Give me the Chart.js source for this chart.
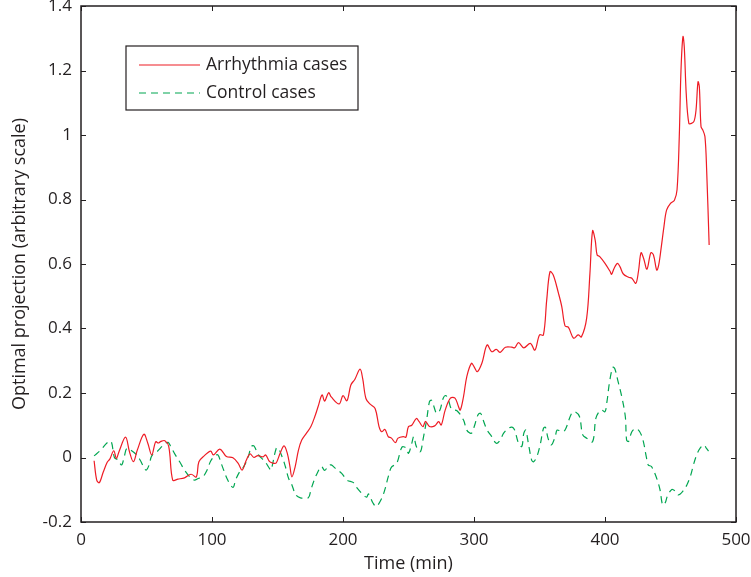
<!DOCTYPE html>
<html lang="en">
<head>
  <meta charset="UTF-8" />
  <title>Optimal projection over time</title>
  <script src="https://cdn.jsdelivr.net/npm/chart.js"></script>
  <style>
    body {
      margin: 0;
      background-color: #ffffff;
    }
    #wrap {
      width: 751px;
      height: 577px;
    }
  </style>
</head>
<body>
  <div id="wrap">
    <canvas id="projChart" width="751" height="577"></canvas>
  </div>

  <script>
    // values
    const arrTime = [10, 12, 14, 17, 20, 22, 25, 27, 29, 34, 37, 40, 43, 48, 51, 54, 57, 59, 61, 64, 67, 70, 74, 79, 84, 88, 90, 94, 99, 101,
      106, 111, 116, 120, 123, 126, 129, 132, 135, 139, 141, 144, 147, 149, 152, 155, 157.5, 159.5, 161, 163.5, 166, 168.5, 172, 175.5, 178.5,
      181, 184, 186, 189, 191, 197, 200, 203, 206, 209, 213, 215, 217.5, 220.5, 224.5, 227.5, 229.5, 232, 234.5, 237, 240, 242, 246, 248, 250,
      252.5, 256, 258, 261, 263, 266, 270, 273, 275, 278, 282, 285.5, 288, 289.5, 292, 294.5, 298, 300, 302.5, 306, 310, 313.5, 317, 320,
      324, 329, 331, 334, 338, 343, 346.5, 350, 353, 355.5, 358, 360.5, 364.5, 367, 369.5, 372, 376, 379.5, 382, 386, 388.5, 390.5, 392.5,
      394, 396, 400, 404, 405, 407, 409.5, 411.5, 414, 418, 420.5, 423.5, 425.5, 427.5, 429.5, 432, 435, 437, 439.5, 441, 443, 445, 447,
      450, 453, 455, 456.7, 458, 459.5, 460.5, 462, 464, 466, 468, 469.5, 471, 472, 473.3, 474.6, 476.3, 477.6, 479.5];
    const arrValue = [-0.01, -0.07, -0.078, -0.045, -0.015, -0.005, 0.021, -0.003, 0.018, 0.063, 0.018, -0.013, 0.023, 0.072, 0.044, 0.008,
      0.049, 0.045, 0.05, 0.052, 0.034, -0.07, -0.067, -0.063, -0.052, -0.06, -0.013, 0.005, 0.02, 0.008,
      0.026, 0.003, -0.001, -0.018, -0.039, -0.01, 0.011, 0.0, 0.006, 0.002, 0.008, -0.013, -0.018, -0.017, 0.013, 0.036, 0.013, -0.028, -0.06,
      -0.028, 0.023, 0.054, 0.075, 0.096, 0.127,
      0.158, 0.194, 0.175, 0.201, 0.188, 0.166, 0.192, 0.176, 0.225, 0.242, 0.274, 0.245, 0.183, 0.166, 0.152, 0.096, 0.08, 0.087, 0.065, 0.06,
      0.046, 0.06, 0.065, 0.063, 0.096,
      0.1, 0.121, 0.112, 0.096, 0.112, 0.096, 0.098, 0.111, 0.101, 0.147, 0.184, 0.184, 0.16, 0.147, 0.189, 0.251, 0.292, 0.282, 0.266, 0.292,
      0.349, 0.328, 0.335, 0.326,
      0.342, 0.342, 0.34, 0.356, 0.34, 0.354, 0.333, 0.38, 0.38, 0.488, 0.576, 0.566, 0.509, 0.468, 0.408, 0.404, 0.37, 0.38, 0.374, 0.432,
      0.571, 0.703, 0.674,
      0.628, 0.623, 0.602, 0.576, 0.568, 0.587, 0.602, 0.591, 0.569, 0.559, 0.556, 0.54, 0.576, 0.635, 0.617, 0.584, 0.635, 0.628, 0.581,
      0.597, 0.654, 0.716, 0.767,
      0.788, 0.798, 0.83, 0.995, 1.2, 1.305, 1.274, 1.129, 1.036, 1.036, 1.043, 1.078, 1.165, 1.15, 1.026, 1.016, 0.995, 0.891, 0.659];

    const ctrlTime = [10, 15, 20, 23, 25.5, 28, 31, 33, 35, 38, 42, 45, 49.5, 52, 54, 58, 63.5, 66.5, 68.5, 72, 76, 79, 83, 86.5, 89.5, 93, 96,
      99, 102, 104.5, 107, 112, 116, 118, 121, 124, 127.5, 130, 132, 135.5, 140.5, 145, 146, 149, 150.5, 154, 156, 158.5, 161, 164, 167.5,
      173.5, 175.5, 178, 180.5, 183.5, 186, 189, 191, 194, 199, 203, 208, 211, 215.5, 218, 219.5, 223, 225.5, 229.5, 232, 234.5, 237, 241,
      245, 248, 250, 252.5, 254, 256, 259, 261, 264, 266, 267.5, 269, 271.5, 274, 276.5, 278.5, 280.5, 283, 287, 292, 294.5, 298, 300.5,
      303, 305, 307, 310, 313.5, 317, 320, 322.5, 326, 329, 331, 334, 336.5, 338, 339.5, 341.5, 344, 345.5, 348, 350.5, 353, 354.5, 356.5,
      359, 362, 363.5, 367, 369.5, 374.5, 377, 380.5, 383, 386, 390.5, 393, 395.5, 397.5, 400, 401.5, 403.5, 406, 407.5, 410, 412.5, 415.5,
      416.5, 418, 420.5, 423.5, 426.5, 429, 431.5, 433, 435.5, 439.5, 442, 444, 446, 447.5, 451, 453.5, 456, 459.5, 462.5, 465.5, 467.5,
      470, 472.5, 475.5, 477.5, 479];
    const ctrlValue = [0.005, 0.023, 0.046, 0.05, 0.0, -0.007, -0.023, 0.003, 0.028, 0.023, 0.01, -0.007, -0.039, -0.023, 0.005, 0.018, 0.041,
      0.047, 0.034, 0.008, -0.018, -0.039, -0.06, -0.07, -0.065, -0.06, -0.041,
      -0.011, 0.005, 0.008, -0.018, -0.07, -0.093, -0.07, -0.045, -0.03, 0.0, 0.034, 0.036, 0.008, -0.013, -0.039, -0.025, 0.028, 0.03,
      -0.003, -0.028, -0.065, -0.085, -0.116, -0.125,
      -0.125, -0.1, -0.07, -0.047, -0.028, -0.04, -0.025, -0.023, -0.033, -0.049, -0.07, -0.078, -0.096, -0.116, -0.123, -0.113, -0.142,
      -0.152, -0.127, -0.099, -0.06, -0.03, -0.018,
      0.032, 0.03, 0.013, 0.044, 0.065, 0.034, 0.018, 0.054, 0.121, 0.173, 0.178, 0.163, 0.137, 0.147, 0.184, 0.192, 0.178, 0.149, 0.145,
      0.116, 0.085, 0.075, 0.1,
      0.132, 0.137, 0.116, 0.085, 0.065, 0.044, 0.054, 0.075, 0.09, 0.094, 0.085, 0.044, 0.034, 0.075, 0.085, 0.044, -0.008, -0.013, 0.003,
      0.039, 0.09, 0.094, 0.06,
      0.039, 0.065, 0.085, 0.08, 0.085, 0.137, 0.142, 0.127, 0.07, 0.06, 0.049, 0.121, 0.142, 0.147, 0.142, 0.173, 0.235, 0.28, 0.275,
      0.235, 0.194, 0.127,
      0.054, 0.05, 0.08, 0.09, 0.08, 0.054, 0.003, -0.023, -0.028, -0.065, -0.1, -0.147, -0.14, -0.121, -0.099, -0.104, -0.116, -0.104,
      -0.085, -0.054, -0.023,
      0.008, 0.028, 0.039, 0.028, 0.02];

    const seriesNames = ['Arrhythmia cases', 'Control cases'];
    const xTicks = [0, 100, 200, 300, 400, 500];
    const yTicks = [-0.2, 0, 0.2, 0.4, 0.6, 0.8, 1, 1.2, 1.4];

    const INK = '#231f20';
    const FONT = '"Open Sans", "DejaVu Sans", sans-serif';

    function toPoints(xs, ys) {
      return xs.map((x, i) => ({ x: x, y: ys[i] }));
    }

    // box round the plot with matlab style inward ticks
    const boxPlugin = {
      id: 'boxTicks',
      afterDatasetsDraw(chart) {
        const { ctx, chartArea: a, scales } = chart;
        const len = 5;
        ctx.save();
        ctx.strokeStyle = INK;
        ctx.lineWidth = 1;
        ctx.beginPath();
        scales.x.ticks.forEach(t => {
          const px = Math.round(scales.x.getPixelForValue(t.value)) + 0.5;
          ctx.moveTo(px, a.bottom); ctx.lineTo(px, a.bottom - len);
          ctx.moveTo(px, a.top); ctx.lineTo(px, a.top + len);
        });
        scales.y.ticks.forEach(t => {
          const py = Math.round(scales.y.getPixelForValue(t.value)) + 0.5;
          ctx.moveTo(a.left, py); ctx.lineTo(a.left + len, py);
          ctx.moveTo(a.right, py); ctx.lineTo(a.right - len, py);
        });
        ctx.stroke();
        ctx.lineWidth = 1.5;
        ctx.strokeRect(a.left, a.top, a.right - a.left, a.bottom - a.top);
        ctx.restore();
      }
    };

    // legend drawn as a framed box inside the plot
    const legendPlugin = {
      id: 'boxLegend',
      afterDraw(chart) {
        const ctx = chart.ctx;
        const bx = 126, by = 46, bw = 232, bh = 64;
        ctx.save();
        ctx.fillStyle = '#ffffff';
        ctx.fillRect(bx, by, bw, bh);
        ctx.strokeStyle = INK;
        ctx.lineWidth = 1.2;
        ctx.strokeRect(bx, by, bw, bh);
        chart.data.datasets.forEach((ds, i) => {
          const y = by + 19 + i * 28;
          ctx.strokeStyle = ds.borderColor;
          ctx.lineWidth = ds.borderWidth;
          ctx.setLineDash(ds.borderDash || []);
          ctx.beginPath();
          ctx.moveTo(139, y);
          ctx.lineTo(200, y);
          ctx.stroke();
          ctx.setLineDash([]);
          ctx.fillStyle = INK;
          ctx.font = '17.5px ' + FONT;
          ctx.textBaseline = 'middle';
          ctx.fillText(ds.label, 206, y);
        });
        ctx.restore();
      }
    };

    const ctx = document.getElementById('projChart').getContext('2d');
    new Chart(ctx, {
      type: 'line',
      data: {
        datasets: [{
          label: seriesNames[0],
          data: toPoints(arrTime, arrValue),
          borderColor: '#ee1c25',
          borderWidth: 1.2,
          pointRadius: 0,
          tension: 0.35,
          fill: false
        }, {
          label: seriesNames[1],
          data: toPoints(ctrlTime, ctrlValue),
          borderColor: '#00a651',
          borderWidth: 1.2,
          borderDash: [7, 5],
          pointRadius: 0,
          tension: 0.35,
          fill: false
        }]
      },
      options: {
        responsive: false,
        animation: false,
        layout: { padding: { left: 0, top: 6, right: 15, bottom: 0 } },
        plugins: {
          legend: { display: false },
          tooltip: { enabled: false }
        },
        scales: {
          x: {
            type: 'linear',
            min: 0,
            max: 500,
            afterFit(s) {
              s.height = 55;
              s.paddingLeft = 0;
              s.paddingRight = 0;
            },
            afterBuildTicks(s) { s.ticks = xTicks.map(v => ({ value: v })); },
            grid: { display: false, drawTicks: false },
            border: { display: false },
            ticks: {
              color: INK,
              font: { family: FONT, size: 17 },
              padding: 8,
              maxRotation: 0,
              callback: v => String(v)
            },
            title: {
              display: true,
              text: 'Time (min)',
              color: INK,
              font: { family: FONT, size: 18 },
              padding: { top: 0, bottom: 2 }
            }
          },
          y: {
            type: 'linear',
            min: -0.2,
            max: 1.4,
            afterFit(s) {
              s.width = 81;
              s.paddingTop = 0;
              s.paddingBottom = 0;
            },
            afterBuildTicks(s) { s.ticks = yTicks.map(v => ({ value: v })); },
            grid: { display: false, drawTicks: false },
            border: { display: false },
            ticks: {
              color: INK,
              font: { family: FONT, size: 17 },
              padding: 9,
              callback: v => String(Number(v.toFixed(1)))
            },
            title: {
              display: true,
              text: 'Optimal projection (arbitrary scale)',
              color: INK,
              font: { family: FONT, size: 18 },
              padding: { top: 9, bottom: 0 }
            }
          }
        }
      },
      plugins: [boxPlugin, legendPlugin]
    });
  </script>
</body>
</html>
